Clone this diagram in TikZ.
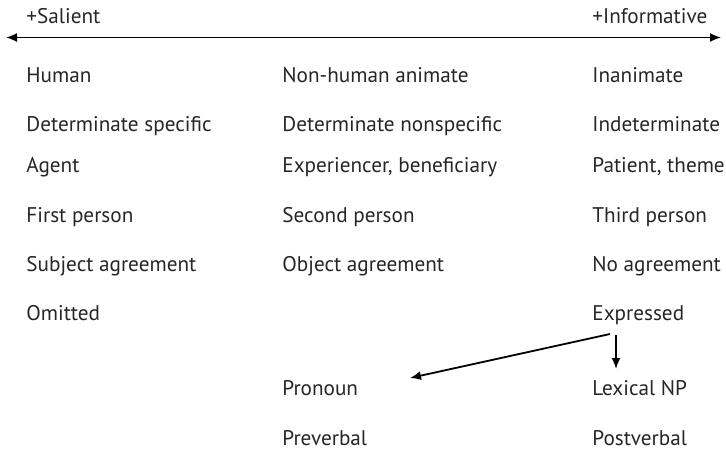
\documentclass[tikz,border=0pt]{standalone}
\usepackage{fontspec}
\setmainfont{PT Sans}
\usetikzlibrary{arrows.meta}
\begin{document}
\begin{tikzpicture}[x=0.5pt,y=-0.5pt,
    every node/.style={anchor=base west,inner sep=0pt,font=\fontsize{10.6}{12}\selectfont,text=black!85},
    scalearrow/.style={line width=0.9pt,-{Latex[length=5.5pt,width=4.5pt]}}]
  \useasboundingbox (0,0) rectangle (726,450);
  \draw
    (26,23) node (sal){+Salient}
    (592,23) node (inf){+Informative}
    (26,82) node (hum){Human}
    (282,82) node (anim){Non-human animate}
    (592,82) node (inan){Inanimate}
    (26,131) node (dets){Determinate specific}
    (282,131) node (detn){Determinate nonspecific}
    (592,131) node (indet){Indeterminate}
    (26,172) node (agt){Agent}
    (282,172) node (exp){Experiencer, beneficiary}
    (592,172) node (pat){Patient, theme}
    (26,222) node (p1){First person}
    (282,222) node (p2){Second person}
    (592,222) node (p3){Third person}
    (26,271) node (sagr){Subject agreement}
    (282,271) node (oagr){Object agreement}
    (592,271) node (noagr){No agreement}
    (26,320) node (omit){Omitted}
    (592,320) node (expr){Expressed}
    (282,395) node (pron){Pronoun}
    (592,395) node (lex){Lexical NP}
    (282,445) node (prev){Preverbal}
    (592,445) node (postv){Postverbal};
  \coordinate (left) at (6,37.5);
  \coordinate (right) at (721,37.5);
  \coordinate (ex1) at (610,334);
  \coordinate (ex2) at (616,335);
  \coordinate (proend) at (410,378);
  \coordinate (lexend) at (616,369);
  \begin{scope}[scalearrow]
    \draw[{Latex[length=5.5pt,width=4.5pt]}-{Latex[length=5.5pt,width=4.5pt]}] (left) to (right);
    \draw (ex1) to (proend);
    \draw (ex2) to (lexend);
  \end{scope}
\end{tikzpicture}
\end{document}
